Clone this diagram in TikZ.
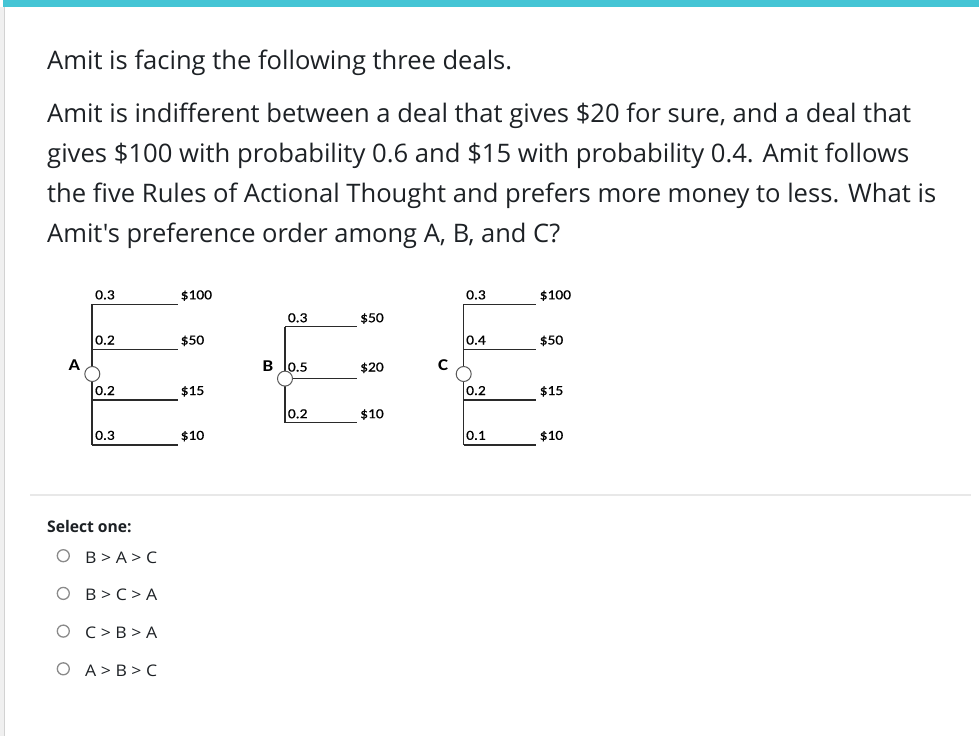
\documentclass[tikz,border=0pt]{standalone}
\usepackage{graphicx}
\usepackage{fontspec}
\setmainfont{Open Sans}[Ligatures=TeXOff]
\newfontfamily\calfont{Carlito}[FakeBold=0.6]
\newfontfamily\calbfont{Carlito Bold}
\definecolor{barcol}{HTML}{45C5D5}
\definecolor{txt}{HTML}{1D2125}
\definecolor{treeline}{HTML}{2A2A2A}
\definecolor{radiogray}{HTML}{8A8A8A}
\newcommand\fitw[2]{\resizebox{#1pt}{\height}{#2}}
\newcommand\tls[1]{\scalebox{1.12}[1]{#1}}
\newcommand\dls[1]{\scalebox{1.15}[1]{#1}}
\tikzset{
  para/.style={anchor=base west, inner sep=0pt, font=\fontsize{25.5}{30}\selectfont, text=txt},
  opt/.style={anchor=base west, inner sep=0pt, font=\fontsize{16}{19}\selectfont, text=txt},
  tlab/.style={anchor=base west, inner sep=0pt, font=\calfont\fontsize{13.8}{15}\selectfont, text=black},
  dlab/.style={anchor=base west, inner sep=0pt, font=\calbfont\fontsize{16.5}{18}\selectfont, text=black},
  branch/.style={draw=treeline, line width=1.1pt},
  chance/.style={circle, draw=black!65, fill=white, line width=1pt, minimum size=15pt, inner sep=0pt},
  radio/.style={circle, draw=radiogray, line width=1.3pt, minimum size=12pt, inner sep=0pt},
}
\begin{document}
\begin{tikzpicture}[x=1pt,y=-1pt]
\useasboundingbox (0,0) rectangle (979,736);
\fill[white] (0,0) rectangle (979,736);
% frame
\fill[barcol] (3,0) rectangle (979,7);
\fill[gray!12] (0,7) rectangle (5,736);
\draw[gray!35, line width=1pt] (4.5,7) -- (4.5,736);
% question text
\node[para] (q1) at (47,69) {\fitw{465}{Amit is facing the following three deals.}};
\node[para] (q2) at (47,122) {\fitw{864}{Amit is indifferent between a deal that gives \$20 for sure, and a deal that}};
\node[para] (q3) at (47,162) {\fitw{862}{gives \$100 with probability 0.6 and \$15 with probability 0.4. Amit follows}};
\node[para] (q4) at (47,202) {\fitw{889}{the five Rules of Actional Thought and prefers more money to less. What is}};
\node[para] (q5) at (47,242) {\fitw{513}{Amit's preference order among A, B, and C?}};
% ---------- Tree A ----------
\coordinate (A1) at (92,304.3); \coordinate (A1e) at (178,304.3);
\coordinate (A2) at (92,349.7); \coordinate (A2e) at (178,349.7);
\coordinate (A3) at (92,400);   \coordinate (A3e) at (178,400);
\coordinate (A4) at (92,445);   \coordinate (A4e) at (178,445);
\draw[branch] (A1) -- (A4);
\draw[branch] (A1) -- (A1e);
\draw[branch] (A2) -- (A2e);
\draw[branch] (A3) -- (A3e);
\draw[branch] (A4) -- (A4e);
\node[chance] (cA) at (92.3,374) {};
\node[dlab] (lA) at (68.5,370.7) {\dls{A}};
\node[tlab] (pA1) at (95,299.3) {\tls{0.3}};
\node[tlab] (pA2) at (95,344.5) {\tls{0.2}};
\node[tlab] (pA3) at (95,395) {\tls{0.2}};
\node[tlab] (pA4) at (95,439.8) {\tls{0.3}};
\node[tlab] (vA1) at (180.5,299.3) {\tls{\$100}};
\node[tlab] (vA2) at (180.5,344.5) {\tls{\$50}};
\node[tlab] (vA3) at (180.5,395) {\tls{\$15}};
\node[tlab] (vA4) at (180.5,439.8) {\tls{\$10}};
% ---------- Tree B ----------
\coordinate (B1) at (285,326.7); \coordinate (B1e) at (357.3,326.7);
\coordinate (B2e) at (357.3,378.6);
\coordinate (B3) at (285,422.7); \coordinate (B3e) at (357.3,422.7);
\draw[branch] (B1) -- (B3);
\draw[branch] (B1) -- (B1e);
\draw[branch] (B3) -- (B3e);
\node[chance] (cB) at (285,378.6) {};
\draw[branch] (cB.east) -- (B2e);
\node[dlab] (lB) at (262.5,371) {\dls{B}};
\node[tlab] (pB1) at (287.7,322.2) {\tls{0.3}};
\node[tlab] (pB2) at (287.7,371.5) {\tls{0.5}};
\node[tlab] (pB3) at (287.7,418.2) {\tls{0.2}};
\node[tlab] (vB1) at (360,322.2) {\tls{\$50}};
\node[tlab] (vB2) at (360,371.5) {\tls{\$20}};
\node[tlab] (vB3) at (360,418.2) {\tls{\$10}};
% ---------- Tree C ----------
\coordinate (C1) at (463.7,304.3); \coordinate (C1e) at (536,304.3);
\coordinate (C2) at (463.7,349.7); \coordinate (C2e) at (536,349.7);
\coordinate (C3) at (463.7,400);   \coordinate (C3e) at (536,400);
\coordinate (C4) at (463.7,445);   \coordinate (C4e) at (536,445);
\draw[branch] (C1) -- (C4);
\draw[branch] (C1) -- (C1e);
\draw[branch] (C2) -- (C2e);
\draw[branch] (C3) -- (C3e);
\draw[branch] (C4) -- (C4e);
\node[chance] (cC) at (463.7,374) {};
\node[dlab] (lC) at (438,370.7) {\dls{C}};
\node[tlab] (pC1) at (466,299.3) {\tls{0.3}};
\node[tlab] (pC2) at (466,344.5) {\tls{0.4}};
\node[tlab] (pC3) at (466,395) {\tls{0.2}};
\node[tlab] (pC4) at (466,439.8) {\tls{0.1}};
\node[tlab] (vC1) at (539.5,299.3) {\tls{\$100}};
\node[tlab] (vC2) at (539.5,344.5) {\tls{\$50}};
\node[tlab] (vC3) at (539.5,395) {\tls{\$15}};
\node[tlab] (vC4) at (539.5,439.8) {\tls{\$10}};
% separator
\draw[gray!18, line width=1.2pt] (30,495) -- (971,495);
% answers
\node[opt, font=\fontsize{16}{19}\selectfont\bfseries] (sel) at (47,532) {\fitw{84.5}{Select one:}};
\node[radio] (r1) at (63.3,555.7) {};
\node[radio] (r2) at (63.3,593.4) {};
\node[radio] (r3) at (63.3,631.1) {};
\node[radio] (r4) at (63.3,668.8) {};
\node[opt] (o1) at (85,563) {\fitw{72}{B\ > A > C}};
\node[opt] (o2) at (85,600.7) {\fitw{72}{B\ > C > A}};
\node[opt] (o3) at (85,638.4) {\fitw{72}{C\ > B > A}};
\node[opt] (o4) at (85,676.1) {\fitw{72}{A\ > B > C}};
\end{tikzpicture}
\end{document}
